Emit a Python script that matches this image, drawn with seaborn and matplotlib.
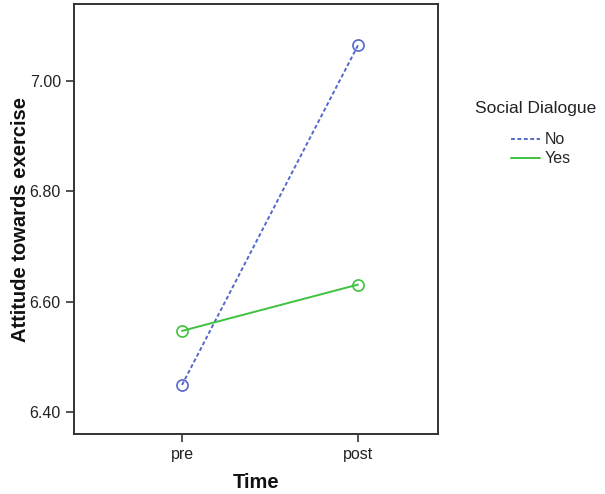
import numpy as np
import pandas as pd
import matplotlib
matplotlib.use("Agg")
import matplotlib.pyplot as plt
import seaborn as sns
from matplotlib.lines import Line2D

times = ["pre", "post"]
groups = ["No", "Yes"]
no_means = [6.449, 7.065]
yes_means = [6.547, 6.631]

df = pd.DataFrame({
    "Time": times * 2,
    "mean": no_means + yes_means,
    "group": [groups[0]] * 2 + [groups[1]] * 2,
})
df["pos"] = df["Time"].map({t: i for i, t in enumerate(times)})

sns.set_style("white")
plt.rcParams["font.family"] = ["Liberation Sans", "DejaVu Sans"]

colors = {"No": "#5468cc", "Yes": "#3fc23f"}
lstyles = {"No": (0, (2.0, 1.3)), "Yes": "-"}

fig = plt.figure(figsize=(6.05, 4.94), dpi=100)
ax = fig.add_axes([74 / 605, 60 / 494, 364 / 605, 430 / 494])

for g in groups:
    sub = df[df["group"] == g]
    sns.lineplot(data=sub, x="pos", y="mean", ax=ax, color=colors[g],
                 linestyle=lstyles[g], linewidth=1.4, marker="o",
                 markersize=8, markerfacecolor="none",
                 markeredgecolor=colors[g], markeredgewidth=1.2,
                 legend=False)

ax.set_xlim(-0.614, 1.455)
ax.set_ylim(6.36, 7.14)
ax.set_xticks(range(len(times)))
ax.set_xticklabels(times)
ax.set_yticks([6.40, 6.60, 6.80, 7.00])
ax.set_yticklabels(["6.40", "6.60", "6.80", "7.00"])
ax.tick_params(axis="both", direction="out", length=6, width=1.2,
               color="#333333", labelsize=11.5, labelcolor="#222222",
               left=True, bottom=True)
for s in ax.spines.values():
    s.set_color("#333333")
    s.set_linewidth(1.4)

ax.set_xlabel("Time", fontsize=14.5, fontweight="bold", labelpad=8,
              color="#111111")
ax.set_ylabel("Attitude towards exercise", fontsize=14.5, fontweight="bold",
              labelpad=0, color="#111111")

fig.text(475 / 605, 1 - 108 / 494, "Social Dialogue", fontsize=12.5,
         va="center", ha="left", color="#222222")
handles = [Line2D([0], [0], color=colors[g], linestyle=lstyles[g],
                  linewidth=1.4) for g in groups]
fig.legend(handles, groups, frameon=False,
           loc="upper left", bbox_to_anchor=(497 / 605, 1 - 118 / 494),
           fontsize=11.5, handlelength=1.8,
           handletextpad=0.3, labelspacing=0.25)

fig.savefig("out.png", dpi=100)
